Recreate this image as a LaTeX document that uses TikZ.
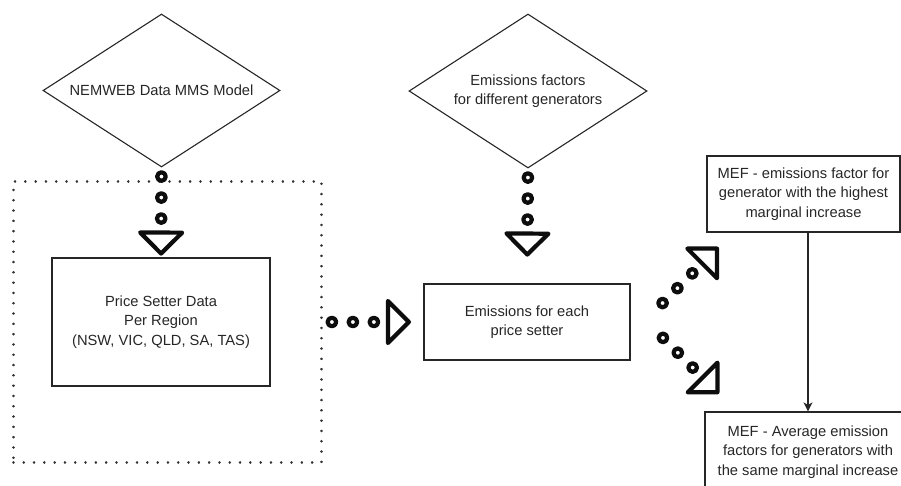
\documentclass[tikz,border=0pt]{standalone}
\usepackage{fontspec}
\setmainfont{Liberation Sans}
\usetikzlibrary{arrows.meta}
\usetikzlibrary{calc}
\usetikzlibrary{shapes.geometric}
\usetikzlibrary{decorations.markings}

\begin{document}
\begin{tikzpicture}[x=1pt, y=-1pt,
    every node/.style={font=\fontsize{14.7}{19.4}\selectfont, text=black!85, align=center},
    box/.style={rectangle, draw=black!85, line width=1.2pt, inner sep=0pt},
    choice/.style={diamond, draw=black!85, line width=1.1pt, inner sep=0pt, aspect=1.55},
    group/.style={rectangle, draw=black!80, line width=2.6pt, line cap=round, dash pattern=on 0.1pt off 10.2pt, inner sep=0pt},
    ring/.style={draw=black!95, line width=4.2pt, fill=white, line join=round},
    dotflow/.style={decoration={markings,
        mark=at position 9pt with {\draw[ring] (0,0) circle (4.3pt);},
        mark=at position 30pt with {\draw[ring] (0,0) circle (4.3pt);},
        mark=at position 51pt with {\draw[ring] (0,0) circle (4.3pt);},
        mark=at position 86pt with {\draw[ring] (0,0) -- (-21pt,21pt) -- (-21pt,-21pt) -- cycle;}},
      postaction={decorate}}]
      \useasboundingbox (0,0) rectangle (901,485);

      \node[choice, minimum width=237pt, minimum height=153pt] (nemweb) at (161.5,90.5) {NEMWEB Data MMS Model};
      \node[choice, minimum width=238pt, minimum height=154pt] (factors) at (528,91) {Emissions factors\\for different generators};
      \node[group, minimum width=308.2pt, minimum height=281.4pt] (region) at (167.5,322) {};
      \node[box, minimum width=218pt, minimum height=128pt] (setter) at (161,322) {Price Setter Data\\Per Region\\(NSW, VIC, QLD, SA, TAS)};
      \node[box, minimum width=206pt, minimum height=76pt] (emis) at (527,322) {Emissions for each\\price setter};
      \node[box, minimum width=193pt, minimum height=76pt] (highest) at (803.5,194) {MEF - emissions factor for\\generator with the highest\\marginal increase};
      \node[box, minimum width=206pt, minimum height=80pt] (average) at (808,452) {MEF - Average emission\\factors for generators with\\the same marginal increase};

      \coordinate (upstart) at ($(emis.east)+(25.6,-12.6)$);
      \coordinate (upend) at ($(upstart)+(-45:90)$);
      \coordinate (downstart) at ($(emis.east)+(26,9.5)$);
      \coordinate (downend) at ($(downstart)+(45:90)$);

      \path[dotflow] (nemweb.south) -- (setter.north);
      \path[dotflow] (factors.south) -- (emis.north);
      \path[dotflow] (region.east) -- (emis.west);
      \path[dotflow] (upstart) -- (upend);
      \path[dotflow] (downstart) -- (downend);
      \draw[-{Stealth[length=9pt, width=9pt, inset=2.5pt]}, line width=1.2pt, draw=black!85] (highest.south -| average.north) -- (average.north);
    \end{tikzpicture}
\end{document}
